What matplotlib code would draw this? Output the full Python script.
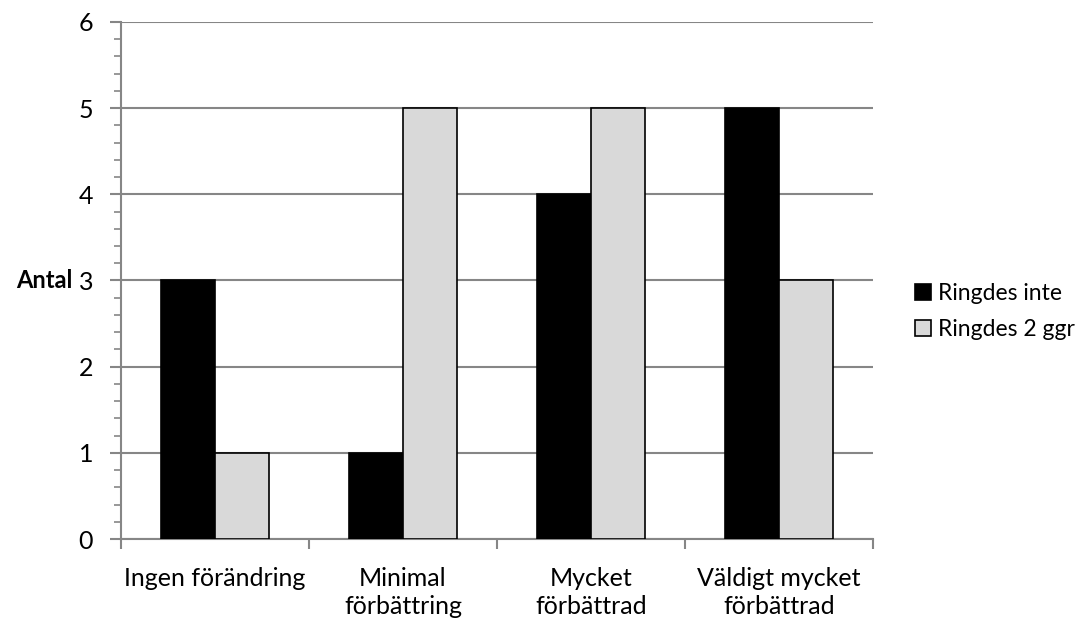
import numpy as np
from matplotlib import pyplot as plt
from matplotlib.ticker import MultipleLocator

# survey answers per category
categories = ["Ingen förändring", "Minimal\nförbättring", "Mycket\nförbättrad", "Väldigt mycket\nförbättrad"]
ringdes_inte = [3, 1, 4, 5]
ringdes_2_ggr = [1, 5, 5, 3]

plt.rcParams['font.family'] = ['Lato', 'DejaVu Sans']

fig = plt.figure(figsize=(10.84, 6.19), dpi=100)
ax = fig.add_axes([0.1116, 0.1292, 0.6938, 0.8353])

x = np.arange(len(categories))
w = 1 / 3.5
ax.bar(x - w / 2, ringdes_inte, w, color="black", edgecolor="black", linewidth=1.2,
       label="Ringdes inte", zorder=3)
ax.bar(x + w / 2, ringdes_2_ggr, w, color="#d9d9d9", edgecolor="black", linewidth=1.2,
       label="Ringdes 2 ggr", zorder=3)

ax.set_xlim(-0.5, len(categories) - 0.5)
ax.set_ylim(0, 6)
ax.yaxis.set_major_locator(MultipleLocator(1))
ax.yaxis.set_minor_locator(MultipleLocator(0.2))
ax.yaxis.grid(True, color="#868686", linewidth=1.5, zorder=0)

# category boundary ticks on the x axis, labels centred between them
ax.set_xticks(np.arange(-0.5, len(categories) + 0.5, 1))
ax.set_xticklabels([])
ax.set_xticks(x, minor=True)
ax.set_xticklabels(categories, minor=True, fontsize=18, linespacing=1.25, va="top")
ax.tick_params(axis="x", which="minor", length=0, pad=20)
ax.tick_params(axis="x", which="major", length=7, width=1.5, color="#868686")
ax.tick_params(axis="y", which="major", length=8, width=1.5, color="#868686", labelsize=18, pad=12)
ax.tick_params(axis="y", which="minor", length=5, width=1.2, color="#868686")

for s in ["top", "right"]:
    ax.spines[s].set_visible(False)
for s in ["left", "bottom"]:
    ax.spines[s].set_color("#868686")
    ax.spines[s].set_linewidth(1.5)

ax.set_ylabel("Antal", rotation=0, fontsize=17, fontweight="bold", ha="right", va="center")
ax.yaxis.set_label_coords(-0.064, 0.5)

ax.legend(loc="upper left", bbox_to_anchor=(1.04, 0.518), frameon=False, fontsize=16.5,
          handlelength=0.7, handleheight=0.7, handletextpad=0.3, labelspacing=0.65,
          borderpad=0)

fig.savefig("out.png", dpi=100)
